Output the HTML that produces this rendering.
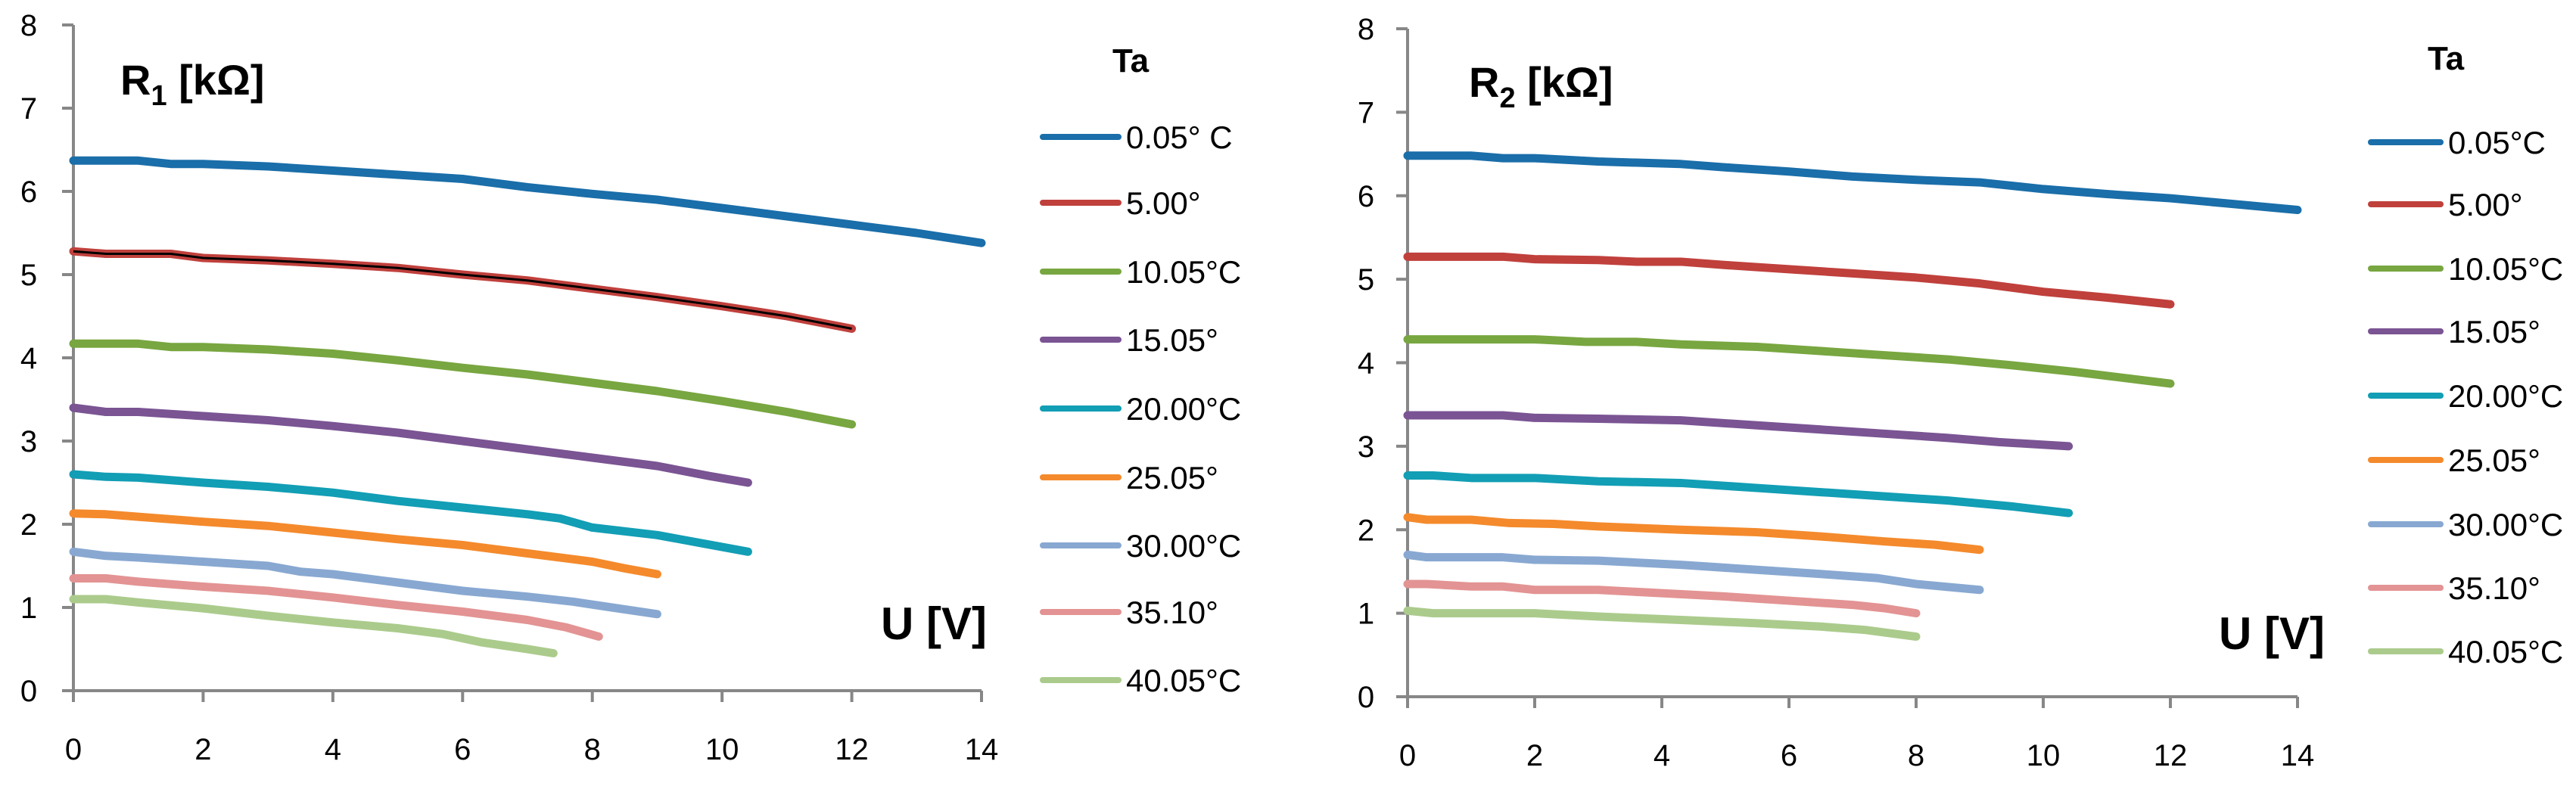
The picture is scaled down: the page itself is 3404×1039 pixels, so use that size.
<!DOCTYPE html>
<html><head><meta charset="utf-8"><style>
html,body{margin:0;padding:0;background:#fff;}
svg{display:block;font-family:"Liberation Sans",sans-serif;}
</style></head><body>
<svg id="chart" width="3404" height="1039" viewBox="0 0 3404 1039" xmlns="http://www.w3.org/2000/svg"></svg>
<script>
const seriesNames = ["0.05°C","5.00°","10.05°C","15.05°","20.00°C","25.05°","30.00°C","35.10°","40.05°C"];
const seriesNamesLeft = ["0.05° C","5.00°","10.05°C","15.05°","20.00°C","25.05°","30.00°C","35.10°","40.05°C"];
const colors = ["#1a6ea9","#c0403c","#78a640","#7a5493","#129eb5","#f48a2c","#88a8d1","#e39393","#abcb8c"];
const xTicks = [0,2,4,6,8,10,12,14];
const yTicks = [0,1,2,3,4,5,6,7,8];
// Left chart (R1) data: [U, R]
const r1_s0 = [[0,6.37],[1,6.37],[1.5,6.33],[2,6.33],[3,6.3],[4,6.25],[5,6.2],[6,6.15],[7,6.05],[8,5.97],[9,5.9],[10,5.8],[11,5.7],[12,5.6],[13,5.5],[14,5.38]];
const r1_s1 = [[0,5.28],[0.5,5.25],[1.5,5.25],[2,5.2],[3,5.17],[4,5.13],[5,5.08],[6,5.0],[7,4.93],[8,4.83],[9,4.73],[10,4.62],[11,4.5],[12,4.35]];
const r1_s2 = [[0,4.17],[1,4.17],[1.5,4.13],[2,4.13],[3,4.1],[4,4.05],[5,3.97],[6,3.88],[7,3.8],[8,3.7],[9,3.6],[10,3.48],[11,3.35],[12,3.2]];
const r1_s3 = [[0,3.4],[0.5,3.35],[1,3.35],[2,3.3],[3,3.25],[4,3.18],[5,3.1],[6,3.0],[7,2.9],[8,2.8],[9,2.7],[9.8,2.58],[10.4,2.5]];
const r1_s4 = [[0,2.6],[0.5,2.57],[1,2.56],[2,2.5],[3,2.45],[4,2.38],[5,2.28],[6,2.2],[7,2.12],[7.5,2.07],[8,1.96],[9,1.87],[9.7,1.77],[10.4,1.67]];
const r1_s5 = [[0,2.13],[0.5,2.12],[1,2.09],[2,2.03],[3,1.98],[4,1.9],[5,1.82],[6,1.75],[7,1.65],[8,1.55],[8.5,1.47],[9,1.4]];
const r1_s6 = [[0,1.67],[0.5,1.62],[1,1.6],[2,1.55],[3,1.5],[3.5,1.43],[4,1.4],[5,1.3],[6,1.2],[7,1.13],[7.7,1.07],[8.3,1.0],[9,0.92]];
const r1_s7 = [[0,1.35],[0.5,1.35],[1,1.31],[2,1.25],[3,1.2],[4,1.12],[5,1.03],[6,0.95],[7,0.85],[7.6,0.76],[8.1,0.65]];
const r1_s8 = [[0,1.1],[0.5,1.1],[1,1.06],[2,0.99],[3,0.9],[4,0.82],[5,0.75],[5.7,0.68],[6.3,0.58],[7,0.5],[7.4,0.45]];
// Right chart (R2) data
const r2_s0 = [[0,6.48],[1,6.48],[1.5,6.45],[2,6.45],[3,6.41],[4.3,6.38],[5,6.34],[6,6.29],[7,6.23],[8,6.19],[9,6.16],[10,6.08],[11,6.02],[12,5.97],[13,5.9],[14,5.83]];
const r2_s1 = [[0,5.27],[1.5,5.27],[2,5.24],[3,5.23],[3.6,5.21],[4.3,5.21],[5,5.17],[6,5.12],[7,5.07],[8,5.02],[9,4.95],[10,4.85],[11,4.78],[12,4.7]];
const r2_s2 = [[0,4.28],[2,4.28],[2.8,4.25],[3.6,4.25],[4.3,4.22],[5.5,4.19],[6.5,4.14],[7.5,4.09],[8.5,4.04],[9.5,3.97],[10.5,3.89],[12,3.75]];
const r2_s3 = [[0,3.37],[1.5,3.37],[2,3.34],[3,3.33],[4.3,3.31],[5.5,3.25],[6.5,3.2],[7.5,3.15],[8.5,3.1],[9.3,3.05],[10.4,3.0]];
const r2_s4 = [[0,2.65],[0.4,2.65],[1,2.62],[2,2.62],[3,2.58],[4.3,2.56],[5.5,2.5],[6.5,2.45],[7.5,2.4],[8.5,2.35],[9.5,2.28],[10.4,2.2]];
const r2_s5 = [[0,2.15],[0.3,2.12],[1,2.12],[1.6,2.08],[2.3,2.07],[3,2.04],[4.3,2.0],[5.5,1.97],[6.5,1.92],[7.5,1.86],[8.3,1.82],[9,1.76]];
const r2_s6 = [[0,1.7],[0.3,1.67],[1.5,1.67],[2,1.64],[3,1.63],[4.3,1.58],[5.5,1.52],[6.5,1.47],[7.4,1.42],[8,1.35],[9,1.28]];
const r2_s7 = [[0,1.35],[0.3,1.35],[1,1.32],[1.5,1.32],[2,1.28],[3,1.28],[4,1.24],[5,1.2],[6,1.15],[7,1.1],[7.5,1.06],[8,1.0]];
const r2_s8 = [[0,1.03],[0.4,1.0],[2,1.0],[3,0.96],[4.3,0.92],[5.5,0.88],[6.5,0.84],[7.2,0.8],[8,0.72]];
const r1Data = [r1_s0,r1_s1,r1_s2,r1_s3,r1_s4,r1_s5,r1_s6,r1_s7,r1_s8];
const r2Data = [r2_s0,r2_s1,r2_s2,r2_s3,r2_s4,r2_s5,r2_s6,r2_s7,r2_s8];

const NS="http://www.w3.org/2000/svg";
const svg=document.getElementById('chart');
function mk(tag,attrs,parent){const e=document.createElementNS(NS,tag);for(const k in attrs)e.setAttribute(k,attrs[k]);(parent||svg).appendChild(e);return e;}

function drawChart(cfg){
  const g=mk('g',{});
  
  
  const sx=v=>cfg.x0+(cfg.x14-cfg.x0)*v/14;
  const sy=v=>cfg.y0-(cfg.y0-cfg.y8)*v/8;
  // axes
  const ya=mk('line',{x1:sx(0),y1:cfg.y8,x2:sx(0),y2:cfg.y0+15,stroke:'#878787','stroke-width':4},g);
  
  
  const xa=mk('line',{x1:sx(0)-15,y1:cfg.y0,x2:sx(14),y2:cfg.y0,stroke:'#878787','stroke-width':4},g);
  
  
  yTicks.forEach(t=>{
    mk('line',{x1:sx(0)-15,y1:sy(t),x2:sx(0),y2:sy(t),stroke:'#878787','stroke-width':4},g);
    const tx=mk('text',{x:cfg.ylabX,y:sy(t)+14,'text-anchor':'middle','font-size':40,fill:'#000'},g);
    tx.textContent=t;
    
    
  });
  xTicks.forEach(t=>{
    mk('line',{x1:sx(t),y1:cfg.y0,x2:sx(t),y2:cfg.y0+15,stroke:'#878787','stroke-width':4},g);
    const tx=mk('text',{x:sx(t),y:cfg.xlabY,'text-anchor':'middle','font-size':40,fill:'#000'},g);
    tx.textContent=t;
    
    
  });
  // series
  cfg.data.forEach((s,i)=>{
    const p=mk('polyline',{points:s.map(d=>sx(d[0])+','+sy(d[1])).join(' '),fill:'none',stroke:colors[i],'stroke-width':11,'stroke-linecap':'round','stroke-linejoin':'round'},g);
    
    
    if(cfg.black && i===1){
      const b=mk('polyline',{points:s.map(d=>sx(d[0])+','+sy(d[1])).join(' '),fill:'none',stroke:'#000','stroke-width':3},g);
      
      
    }
    const ly=cfg.legY[i];
    const l=mk('line',{x1:cfg.legX1,y1:ly,x2:cfg.legX2,y2:ly,stroke:colors[i],'stroke-width':8,'stroke-linecap':'round'},g);
    
    
    const lt=mk('text',{x:cfg.legTX,y:ly+15,'font-size':42,fill:'#000'},g);
    lt.textContent=cfg.names[i];
    
    
  });
  const ta=mk('text',{x:cfg.taX,y:cfg.taY,'font-size':44,'font-weight':'bold',fill:'#000'},g);
  ta.textContent='Ta';
  
  
  const yt=mk('text',{x:cfg.rX,y:cfg.rY,'font-size':56,'font-weight':'bold',fill:'#000'},g);
  yt.innerHTML=cfg.rLabel;
  
  
  const xt=mk('text',{x:cfg.uX,y:cfg.uY,'font-size':60,'font-weight':'bold',fill:'#000','text-anchor':'end'},g);
  xt.textContent='U [V]';
  
  
}
drawChart({name:'r1-chart',data:r1Data,names:seriesNamesLeft,black:true,x0:97,x14:1297,y0:913,y8:33,ylabX:38,xlabY:1004,
  legX1:1378,legX2:1478,legTX:1488,legY:[181,268,359,449,540,631,721,809,899],taX:1470,taY:95,
  rX:159,rY:125,rLabel:'R<tspan font-size="38" dy="14">1</tspan><tspan dy="-14"> [kΩ]</tspan>',uX:1304,uY:845});
drawChart({name:'r2-chart',data:r2Data,names:seriesNames,black:false,x0:1860,x14:3036,y0:921,y8:38,ylabX:1805,xlabY:1012,
  legX1:3133,legX2:3225,legTX:3235,legY:[188,270,355,438,523,608,693,777,861],taX:3208,taY:92,
  rX:1941,rY:128,rLabel:'R<tspan font-size="38" dy="14">2</tspan><tspan dy="-14"> [kΩ]</tspan>',uX:3072,uY:858});
</script>
</body></html>
